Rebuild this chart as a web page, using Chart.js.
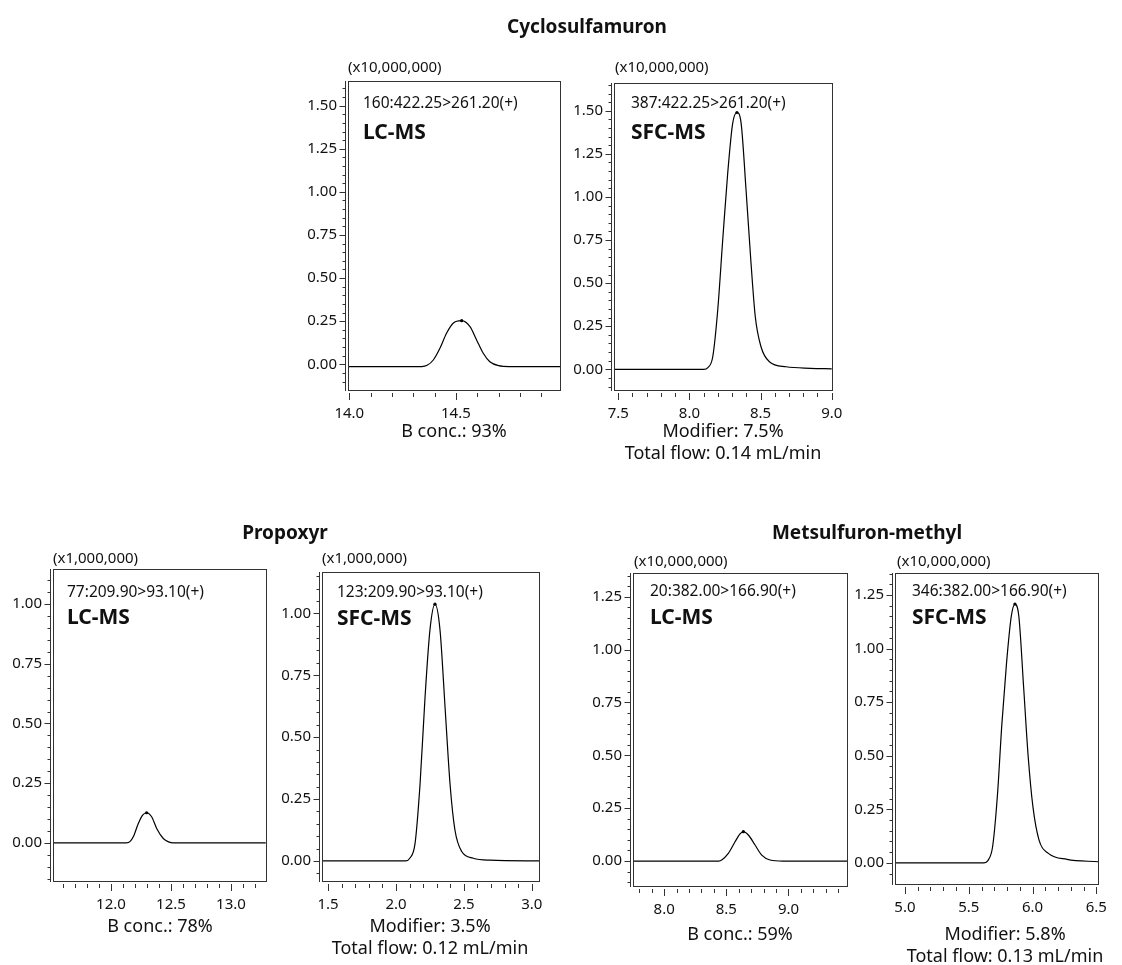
<!DOCTYPE html>
<html><head><meta charset="utf-8">
<script src="https://cdn.jsdelivr.net/npm/chart.js@4.4.1/dist/chart.umd.min.js"></script>
<style>
html,body{margin:0;padding:0;background:#fff;}
#wrap{position:relative;width:1122px;height:965px;overflow:hidden;font-family:"Noto Sans",sans-serif;color:#111;}
canvas{position:absolute;left:0;top:0;pointer-events:none;}
.t{position:absolute;white-space:nowrap;line-height:1;transform:translateY(-50%);}
.c{transform:translate(-50%,-50%);}
.title{font-weight:bold;font-size:19px;}
.scale{font-size:15px;}
.mrm{font-size:15.5px;}
.tech{font-size:21px;font-weight:bold;}
.cond{font-size:18px;}
</style></head><body><div id="wrap"></div>
<script>
// ---------- DATA ----------
const compounds = ["Cyclosulfamuron", "Propoxyr", "Metsulfuron-methyl"];
const techniques = ["LC-MS", "SFC-MS", "LC-MS", "SFC-MS", "LC-MS", "SFC-MS"];
const transitions = ["160:422.25>261.20(+)", "387:422.25>261.20(+)", "77:209.90>93.10(+)",
                     "123:209.90>93.10(+)", "20:382.00>166.90(+)", "346:382.00>166.90(+)"];
const intensityFactors = ["(x10,000,000)", "(x10,000,000)", "(x1,000,000)", "(x1,000,000)", "(x10,000,000)", "(x10,000,000)"];
const conditions = [["B conc.: 93%"], ["Modifier: 7.5%", "Total flow: 0.14 mL/min"], ["B conc.: 78%"],
                    ["Modifier: 3.5%", "Total flow: 0.12 mL/min"], ["B conc.: 59%"], ["Modifier: 5.8%", "Total flow: 0.13 mL/min"]];

// Cyclosulfamuron LC-MS
const cycloLcTime   = [13.99, 14.34, 14.365, 14.394, 14.425, 14.456, 14.487, 14.527, 14.566, 14.597, 14.628, 14.659, 14.70, 14.75, 14.99];
const cycloLcSignal = [-0.013, -0.013, -0.006, 0.025, 0.093, 0.18, 0.238, 0.253, 0.218, 0.141, 0.064, 0.015, -0.008, -0.013, -0.013];
// Cyclosulfamuron SFC-MS
const cycloSfcTime   = [7.47, 8.10, 8.13, 8.164, 8.199, 8.234, 8.269, 8.304, 8.334, 8.363, 8.398, 8.433, 8.463, 8.503, 8.562, 8.679, 8.85, 9.0];
const cycloSfcSignal = [0, 0, 0.01, 0.073, 0.344, 0.75, 1.137, 1.427, 1.49, 1.43, 1.04, 0.615, 0.305, 0.131, 0.044, 0.015, 0.006, 0.003];
// Propoxyr LC-MS
const propLcTime   = [11.52, 12.13, 12.16, 12.186, 12.228, 12.264, 12.297, 12.339, 12.381, 12.436, 12.48, 12.52, 13.29];
const propLcSignal = [0, 0, 0.006, 0.025, 0.081, 0.116, 0.126, 0.109, 0.06, 0.018, 0.004, 0, 0];
// Propoxyr SFC-MS
const propSfcTime   = [1.455, 2.07, 2.10, 2.14, 2.177, 2.214, 2.25, 2.287, 2.324, 2.361, 2.398, 2.434, 2.484, 2.569, 2.692, 3.053];
const propSfcSignal = [0, 0, 0.01, 0.07, 0.31, 0.663, 0.933, 1.037, 0.933, 0.623, 0.31, 0.125, 0.038, 0.011, 0.003, 0];
// Metsulfuron-methyl LC-MS
const metLcTime   = [7.749, 8.44, 8.463, 8.516, 8.570, 8.610, 8.637, 8.677, 8.731, 8.785, 8.852, 8.956, 9.471];
const metLcSignal = [0, 0, 0.005, 0.036, 0.091, 0.128, 0.139, 0.123, 0.076, 0.028, 0.005, 0, 0];
// Metsulfuron-methyl SFC-MS
const metSfcTime   = [4.922, 5.62, 5.65, 5.687, 5.724, 5.760, 5.796, 5.833, 5.862, 5.893, 5.930, 5.966, 6.003, 6.051, 6.124, 6.270, 6.517];
const metSfcSignal = [0, 0, 0.01, 0.075, 0.308, 0.651, 0.931, 1.149, 1.208, 1.149, 0.822, 0.495, 0.262, 0.106, 0.044, 0.016, 0.005];

// tick labels
const cycloLcXTicks = [14.0, 14.5];
const cycloSfcXTicks = [7.5, 8.0, 8.5, 9.0];
const propLcXTicks = [12.0, 12.5, 13.0];
const propSfcXTicks = [1.5, 2.0, 2.5, 3.0];
const metLcXTicks = [8.0, 8.5, 9.0];
const metSfcXTicks = [5.0, 5.5, 6.0, 6.5];
const yTicks150 = [0.00, 0.25, 0.50, 0.75, 1.00, 1.25, 1.50];
const yTicks100 = [0.00, 0.25, 0.50, 0.75, 1.00];
const yTicks125 = [0.00, 0.25, 0.50, 0.75, 1.00, 1.25];

// ---------- LAYOUT ----------
const panels = [
  {time: cycloLcTime, sig: cycloLcSignal, xt: cycloLcXTicks, yt: yTicks150, box: [348, 81, 560, 390], x: [13.994, 14.988], y: [-0.149, 1.643],
   txt: {fac: [348, 66], mrm: [363, 103], tech: [363, 131], cond: [454, 430]}},
  {time: cycloSfcTime, sig: cycloSfcSignal, xt: cycloSfcXTicks, yt: yTicks150, box: [614, 83, 832, 390], x: [7.470, 9.002], y: [-0.120, 1.661],
   txt: {fac: [615, 66], mrm: [631, 103], tech: [631, 131], cond: [723, 430]}},
  {time: propLcTime, sig: propLcSignal, xt: propLcXTicks, yt: yTicks100, box: [53, 569, 266, 881], x: [11.517, 13.292], y: [-0.160, 1.147],
   txt: {fac: [53, 557], mrm: [67, 592], tech: [67, 616], cond: [160, 925]}},
  {time: propSfcTime, sig: propSfcSignal, xt: propSfcXTicks, yt: yTicks100, box: [322, 572, 539, 881], x: [1.455, 3.053], y: [-0.081, 1.167],
   txt: {fac: [322, 557], mrm: [337, 592], tech: [337, 617], cond: [430, 925]}},
  {time: metLcTime, sig: metLcSignal, xt: metLcXTicks, yt: yTicks125, box: [633, 573, 847, 886], x: [7.749, 9.471], y: [-0.118, 1.362],
   txt: {fac: [634, 560], mrm: [650, 591], tech: [650, 616], cond: [740, 933]}},
  {time: metSfcTime, sig: metSfcSignal, xt: metSfcXTicks, yt: yTicks125, box: [895, 573, 1114, 884], x: [4.922, 6.517], y: [-0.099, 1.353],
   txt: {fac: [897, 560], mrm: [912, 591], tech: [912, 616], cond: [1005, 933]}}
];
const titlePos = [[587, 26], [285, 532], [867, 532]];
const FONT = '"Noto Sans", sans-serif';
const W = 1122, H = 965, YW = 60, XH = 40;

const wrap = document.getElementById('wrap');
function addText(str, cls, x, y, center) {
  const d = document.createElement('div');
  d.className = 't ' + cls + (center ? ' c' : '');
  d.textContent = str;
  d.style.left = x + 'px';
  d.style.top = y + 'px';
  wrap.appendChild(d);
}

const frame = {
  id: 'frame',
  afterDraw(chart) {
    const {ctx, chartArea: a, scales: {x, y}} = chart;
    ctx.save();
    ctx.strokeStyle = '#333';
    ctx.lineWidth = 1;
    ctx.strokeRect(Math.round(a.left) + 0.5, Math.round(a.top) + 0.5, Math.round(a.right - a.left), Math.round(a.bottom - a.top));
    const ax = Math.round(a.left) - 3 + 0.5;
    ctx.beginPath();
    ctx.moveTo(ax, a.top); ctx.lineTo(ax, a.bottom + 1);
    // y ticks
    const ys = 0.05;
    for (let k = Math.ceil(y.min / ys - 1e-6); k <= Math.floor(y.max / ys + 1e-6); k++) {
      const v = k * ys;
      const major = Math.abs(v / 0.25 - Math.round(v / 0.25)) < 1e-6;
      const py = Math.round(y.getPixelForValue(v)) + 0.5;
      ctx.moveTo(ax, py); ctx.lineTo(ax - (major ? 6 : 3), py);
    }
    // x ticks
    const xs = 0.1;
    const by = Math.round(a.bottom) + 3;
    for (let k = Math.ceil(x.min / xs - 1e-6); k <= Math.floor(x.max / xs + 1e-6); k++) {
      const v = k * xs;
      const major = Math.abs(v / 0.5 - Math.round(v / 0.5)) < 1e-6;
      const px = Math.round(x.getPixelForValue(v)) + 0.5;
      ctx.moveTo(px, by); ctx.lineTo(px, by + (major ? 7 : 4));
    }
    ctx.stroke();
    ctx.restore();
  }
};

panels.forEach((p, i) => {
  const cv = document.createElement('canvas');
  cv.width = W; cv.height = H;
  cv.style.width = W + 'px'; cv.style.height = H + 'px';
  wrap.appendChild(cv);
  const [l, t, r, b] = p.box;
  const apex = p.sig.indexOf(Math.max(...p.sig));
  new Chart(cv, {
    type: 'line',
    data: {
      datasets: [{
        data: p.time.map((tm, k) => ({x: tm, y: p.sig[k]})),
        borderColor: '#000',
        borderWidth: 1.2,
        fill: false,
        cubicInterpolationMode: 'monotone',
        pointRadius: c => c.dataIndex === apex ? 1.6 : 0,
        pointBackgroundColor: '#000',
        pointBorderWidth: 0
      }]
    },
    options: {
      responsive: false,
      animation: false,
      devicePixelRatio: 1,
      layout: {autoPadding: false, padding: {left: l - YW, top: t, right: W - r, bottom: H - b - XH}},
      plugins: {legend: {display: false}, tooltip: {enabled: false}, title: {display: false}},
      scales: {
        x: {
          type: 'linear', min: p.x[0], max: p.x[1],
          afterBuildTicks: s => { s.ticks = p.xt.map(v => ({value: v})); },
          afterFit: s => { s.height = XH; },
          grid: {display: false, drawTicks: false},
          border: {display: false},
          ticks: {autoSkip: false, maxRotation: 0, padding: 15, color: '#111', font: {family: FONT, size: 15},
                  callback: v => Number(v).toFixed(1)}
        },
        y: {
          type: 'linear', min: p.y[0], max: p.y[1],
          afterBuildTicks: s => { s.ticks = p.yt.map(v => ({value: v})); },
          afterFit: s => { s.width = YW; },
          grid: {display: false, drawTicks: false},
          border: {display: false},
          ticks: {autoSkip: false, padding: 11, color: '#111', font: {family: FONT, size: 15},
                  callback: v => Number(v).toFixed(2)}
        }
      }
    },
    plugins: [frame]
  });
  const tx = p.txt;
  addText(intensityFactors[i], 'scale', tx.fac[0], tx.fac[1], false);
  addText(transitions[i], 'mrm', tx.mrm[0], tx.mrm[1], false);
  addText(techniques[i], 'tech', tx.tech[0], tx.tech[1], false);
  conditions[i].forEach((c, j) => addText(c, 'cond', tx.cond[0], tx.cond[1] + j * 22, true));
});
compounds.forEach((c, i) => addText(c, 'title', titlePos[i][0], titlePos[i][1], true));
</script>
</body></html>
